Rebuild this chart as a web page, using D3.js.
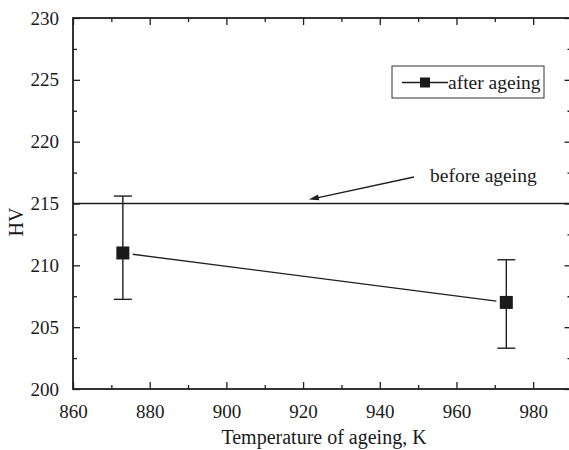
<!DOCTYPE html>
<html><head><meta charset="utf-8">
<script src="https://cdn.jsdelivr.net/npm/d3@7"></script>
<style>html,body{margin:0;background:#fff;overflow:hidden}svg{display:block;overflow:hidden}text{font-family:"Liberation Serif","Times New Roman",serif;fill:#1a1a1a}</style>
</head><body><svg id="c" width="569" height="450"></svg>
<script>
const temps = [873, 973];
const hvAfter = [211.0, 207.0];
const errHigh = [215.6, 210.45];
const errLow = [207.25, 203.3];
const hvBefore = 215;
const xTicks = [860, 880, 900, 920, 940, 960, 980];
const yTicks = [200, 205, 210, 215, 220, 225, 230];
const seriesName = "after ageing";
const beforeName = "before ageing";
const xTitle = "Temperature of ageing, K";
const yTitle = "HV";

const svg = d3.select("#c");
const serif = '"Liberation Serif","Times New Roman",serif';
const L = 73, R = 571.5, T = 18, B = 389;
const x = d3.scaleLinear().domain([860, 990]).range([L, R]);
const y = d3.scaleLinear().domain([200, 230]).range([B, T]);
const ink = "#1f1f1f";

function styleAxis(g, labels) {
  g.attr("font-family", serif);
  g.select(".domain").remove();
  g.selectAll(".tick line").attr("stroke", ink).attr("stroke-width", 1.3);
  g.selectAll(".tick text").attr("font-family", serif).style("font-family", serif).style("font-size", "19px").attr("fill", ink);
  if (!labels) g.selectAll(".tick text").remove();
}
const xMinor = d3.range(870, 990, 20);
const yMinor = d3.range(202.5, 230, 5);

// bottom
const gb = svg.append("g").attr("transform", `translate(0,${B})`)
  .call(d3.axisBottom(x).tickValues(xTicks).tickSize(-7).tickPadding(16).tickFormat(d3.format("d")));
styleAxis(gb, true);
svg.append("g").attr("transform", `translate(0,${B})`).call(d3.axisBottom(x).tickValues(xMinor).tickSize(-4).tickFormat("")).call(g => styleAxis(g, false));
// top
svg.append("g").attr("transform", `translate(0,${T})`).call(d3.axisTop(x).tickValues(xTicks).tickSize(-7).tickFormat("")).call(g => styleAxis(g, false));
svg.append("g").attr("transform", `translate(0,${T})`).call(d3.axisTop(x).tickValues(xMinor).tickSize(-4).tickFormat("")).call(g => styleAxis(g, false));
// left
const gl = svg.append("g").attr("transform", `translate(${L},0)`)
  .call(d3.axisLeft(y).tickValues(yTicks).tickSize(-7).tickPadding(14).tickFormat(d3.format("d")));
styleAxis(gl, true);
svg.append("g").attr("transform", `translate(${L},0)`).call(d3.axisLeft(y).tickValues(yMinor).tickSize(-4).tickFormat("")).call(g => styleAxis(g, false));
// right
svg.append("g").attr("transform", `translate(${R},0)`).call(d3.axisRight(y).tickValues(yTicks).tickSize(-7).tickFormat("")).call(g => styleAxis(g, false));
svg.append("g").attr("transform", `translate(${R},0)`).call(d3.axisRight(y).tickValues(yMinor).tickSize(-4).tickFormat("")).call(g => styleAxis(g, false));

// frame
svg.append("rect").attr("x", L).attr("y", T).attr("width", R - L).attr("height", B - T)
  .attr("fill", "none").attr("stroke", ink).attr("stroke-width", 1.8);

// before ageing line
svg.append("line").attr("x1", L).attr("x2", R).attr("y1", y(hvBefore)).attr("y2", y(hvBefore))
  .attr("stroke", ink).attr("stroke-width", 1.6);

// connecting line with gaps
const pts = temps.map((t, i) => [x(t), y(hvAfter[i])]);
for (let i = 0; i < pts.length - 1; i++) {
  const [x1, y1] = pts[i], [x2, y2] = pts[i + 1];
  const dx = x2 - x1, dy = y2 - y1, len = Math.hypot(dx, dy), g = 10;
  svg.append("line")
    .attr("x1", x1 + dx / len * g).attr("y1", y1 + dy / len * g)
    .attr("x2", x2 - dx / len * g).attr("y2", y2 - dy / len * g)
    .attr("stroke", ink).attr("stroke-width", 1.3);
}
// error bars
temps.forEach((t, i) => {
  const cx = x(t);
  svg.append("line").attr("x1", cx).attr("x2", cx).attr("y1", y(errHigh[i])).attr("y2", y(errLow[i])).attr("stroke", ink).attr("stroke-width", 1.4);
  [errHigh[i], errLow[i]].forEach(v => svg.append("line").attr("x1", cx - 9).attr("x2", cx + 9).attr("y1", y(v)).attr("y2", y(v)).attr("stroke", ink).attr("stroke-width", 1.4));
});
// markers
svg.selectAll("rect.m").data(temps).join("rect").attr("class", "m")
  .attr("x", d => x(d) - 6.5).attr("y", (d, i) => y(hvAfter[i]) - 6.5)
  .attr("width", 13).attr("height", 13).attr("fill", "#1a1a1a");

// legend
svg.append("rect").attr("x", 392).attr("y", 66).attr("width", 152).attr("height", 32)
  .attr("fill", "#fff").attr("stroke", "#333").attr("stroke-width", 1);
svg.append("line").attr("x1", 402).attr("x2", 448).attr("y1", 82.5).attr("y2", 82.5).attr("stroke", ink).attr("stroke-width", 1.4);
svg.append("rect").attr("x", 420).attr("y", 77.5).attr("width", 10).attr("height", 10).attr("fill", "#1a1a1a");
svg.append("text").attr("x", 448).attr("y", 89).style("font-size", "19.5px").text(seriesName);

// annotation
svg.append("text").attr("x", 430).attr("y", 182).style("font-size", "19.5px").text(beforeName);
const ax1 = 414, ay1 = 177, ax2 = x(921.5), ay2 = y(hvBefore) - 4;
svg.append("line").attr("x1", ax1).attr("y1", ay1).attr("x2", ax2 + 6).attr("y2", ay2 - 1.2).attr("stroke", ink).attr("stroke-width", 1.3);
{
  const ang = Math.atan2(ay1 - ay2, ax1 - ax2);
  const hl = 10, hw = 3;
  const bx = ax2 + Math.cos(ang) * hl, by = ay2 + Math.sin(ang) * hl;
  const px = -Math.sin(ang) * hw, py = Math.cos(ang) * hw;
  svg.append("path").attr("d", `M${ax2},${ay2}L${bx + px},${by + py}L${bx - px},${by - py}Z`).attr("fill", ink);
}

// titles
svg.append("text").attr("x", 324).attr("y", 444).attr("text-anchor", "middle").style("font-size", "20px").text(xTitle);
svg.append("text").attr("transform", "translate(23,222) rotate(-90)").attr("text-anchor", "middle").style("font-size", "20px").text(yTitle);
</script></body></html>
